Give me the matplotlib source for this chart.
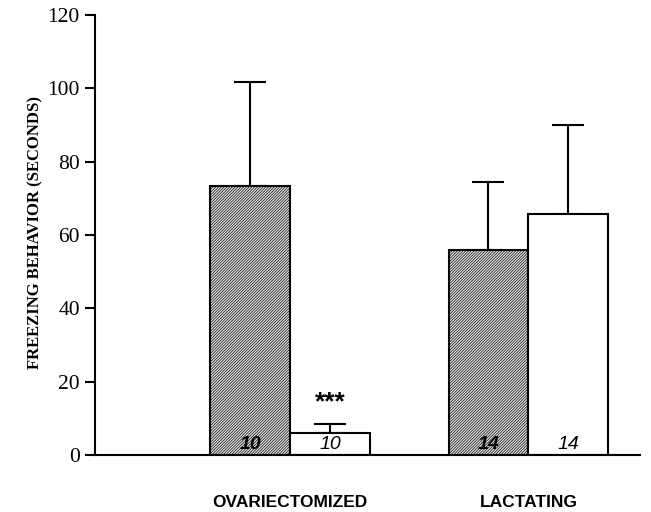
import matplotlib.pyplot as plt

# Data
groups = ["OVARIECTOMIZED", "LACTATING"]
hatched_means = [73.3, 56.0]
hatched_err = [28.5, 18.5]
open_means = [6.1, 65.7]
open_err = [2.3, 24.3]
n_hatched = ["10", "14"]
n_open = ["10", "14"]

plt.rcParams['hatch.color'] = '#383838'
plt.rcParams['hatch.linewidth'] = 0.5

fig = plt.figure(figsize=(6.51, 5.12), dpi=100)
ax = fig.add_axes([0.146, 0.111, 0.837, 0.86])

centers = [1, 2]
w = 0.335
x_h = [c - w / 2 for c in centers]
x_o = [c + w / 2 for c in centers]

ax.bar(x_h, hatched_means, width=w, facecolor='#e8e8e8', edgecolor='black',
       hatch='/' * 12, linewidth=1.5, zorder=2)
ax.bar(x_o, open_means, width=w, facecolor='white', edgecolor='black',
       linewidth=1.5, zorder=2)

# upward-only error bars
ax.errorbar(x_h, hatched_means, yerr=[[0, 0], hatched_err], fmt='none',
            ecolor='black', elinewidth=1.5, capsize=11.5, capthick=1.5, zorder=1)
ax.errorbar(x_o, open_means, yerr=[[0, 0], open_err], fmt='none',
            ecolor='black', elinewidth=1.5, capsize=11.5, capthick=1.5, zorder=1)

# n per group
for x, t in zip(x_h, n_hatched):
    ax.text(x, 2.9, t, ha='center', va='center', fontsize=14, style='italic',
            fontweight='bold', family='Liberation Sans', zorder=3)
for x, t in zip(x_o, n_open):
    ax.text(x, 2.9, t, ha='center', va='center', fontsize=14, style='italic',
            family='Liberation Sans', zorder=3)

ax.text(x_o[0], 14.3, "***", ha='center', va='center', fontsize=19,
        fontweight='bold', family='Liberation Sans')

ax.set_xlim(0.182, 2.468)
ax.set_ylim(0, 120)
ax.set_yticks(range(0, 121, 20))
ax.set_xticks(centers)
ax.set_xticklabels(groups, fontsize=12.5, fontweight='bold', family='Liberation Sans')
ax.tick_params(axis='x', length=0, pad=29)
ax.tick_params(axis='y', length=7, width=1.5, direction='out', pad=4)
for lab in ax.get_yticklabels():
    lab.set_family('Liberation Serif')
    lab.set_fontsize(15.5)

ax.set_ylabel("FREEZING BEHAVIOR (SECONDS)", family='Liberation Serif',
              fontweight='bold', fontsize=12)
ax.yaxis.set_label_coords(-0.095, 0.505)

ax.spines['top'].set_visible(False)
ax.spines['right'].set_visible(False)
ax.spines['left'].set_linewidth(1.5)
ax.spines['bottom'].set_linewidth(1.5)

plt.savefig("out.png", dpi=100)
